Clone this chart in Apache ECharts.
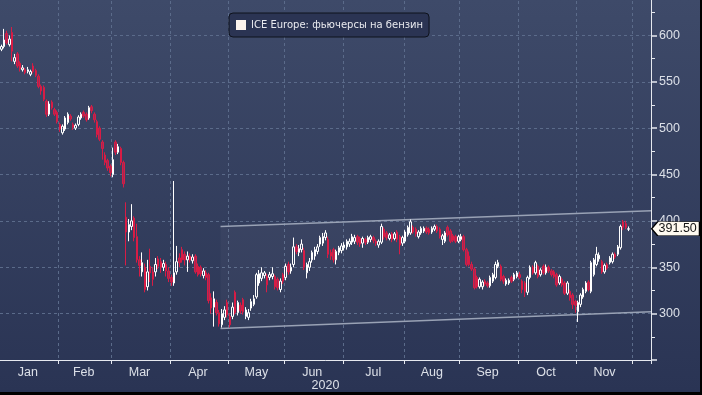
<!DOCTYPE html>
<html>
<head>
<meta charset="utf-8">
<script src="https://cdn.jsdelivr.net/npm/echarts@6/dist/echarts.min.js"></script>
<style>
html,body{margin:0;padding:0;background:#000;overflow:hidden;}
#c{width:700px;height:392px;}
</style>
</head>
<body>
<div id="c"></div>
<script>
const seriesName = 'ICE Europe: фьючерсы на бензин';
const yearLabel = '2020';
const monthNames = ['Jan','Feb','Mar','Apr','May','Jun','Jul','Aug','Sep','Oct','Nov','Dec'];
const labelledMonths = ['01','02','03','04','05','06','07','08','09','10','11'];
const firstDate = '2020-01-02';
const lastDate = '2020-12-09';
const yMin = 250, yMax = 650, yStep = 50;

// [open, close, low, high]
const janOHLC = [
  [585,588,583,590],[588,595,586,607],[602,592,590,605],[590,596,588,600],[603,583,572,609],
  [572,576,569,580],[580,567,565,582],[570,564,561,572],[563,565,561,568],[563,560,558,565],
  [561,563,559,566],[558,561,556,563],[567,561,559,570],[562,557,555,564],[556,545,543,558],
  [545,540,536,547],[544,531,529,546],[529,515,512,531],[515,526,513,529],[528,522,520,530],
  [520,515,513,522],[517,507,505,519]
];
const febOHLC = [
  [504,499,496,506],[495,502,493,504],[499,511,497,513],[506,515,504,517],[513,510,508,515],
  [504,501,498,506],[500,503,498,505],[504,512,502,514],[511,515,509,517],[517,513,511,519],
  [515,509,507,517],[511,522,509,524],[523,519,516,525],[515,509,506,517],[507,493,490,509],
  [500,488,486,502],[485,478,466,487],[471,463,460,474],[465,457,454,467],[459,452,448,461]
];
const marOHLC = [
  [450,466,447,479],[485,474,471,487],[474,480,472,483],[478,463,460,480],[463,440,436,465],
  [404,388,352,420],[388,396,378,402],[394,400,390,418],[403,382,378,405],[383,358,355,397],
  [358,352,340,362],[345,355,340,366],[350,326,323,354],[329,345,325,358],[351,344,334,370],
  [345,337,330,350],[345,353,340,360],[359,351,348,362],[356,350,344,360],[350,354,346,358],
  [353,346,340,356],[346,338,334,350]
];
const aprOHLC = [
  [339,334,330,342],[333,344,330,443],[345,356,342,373],[360,355,350,365],[369,358,355,372],
  [364,358,352,367],[358,362,345,367],[362,358,355,365],[357,361,354,364],[362,345,343,364],
  [351,342,340,354],[350,343,340,352],[341,346,338,349],[344,339,336,347],[342,314,311,344],
  [317,306,300,322],[307,316,286,324],[312,301,298,315],[301,289,286,304],[288,300,285,305],
  [296,304,293,308],[312,299,296,315]
];
const mayOHLC = [
  [297,288,285,300],[297,307,294,312],[323,301,299,325],[301,312,298,314],[309,303,300,312],
  [315,302,299,317],[297,304,294,307],[296,301,293,305],[306,313,303,316],[310,316,308,320],
  [318,342,316,344],[333,343,330,347],[338,344,335,350],[341,344,338,346],[340,331,323,343],
  [339,342,336,345],[340,343,337,350],[340,329,326,342],[337,328,325,339],[326,335,323,338],
  [342,335,332,344]
];
const junOHLC = [
  [339,351,336,354],[353,345,342,356],[346,350,343,354],[353,372,350,382],[372,367,364,375],
  [366,370,362,374],[369,375,366,380],[368,350,347,371],[344,353,338,355],[350,356,346,360],
  [358,366,355,368],[362,369,358,372],[367,372,364,375],[375,382,372,384],[376,383,373,387],
  [382,387,379,390],[380,364,360,383],[366,362,358,369],[369,358,355,371],[358,367,353,369],
  [366,371,363,373],[368,373,365,376]
];
const julOHLC = [
  [371,374,368,377],[372,378,369,380],[375,378,372,381],[377,383,374,386],[378,382,375,385],
  [383,377,374,385],[381,375,372,383],[376,381,371,383],[380,377,374,382],[377,382,375,384],
  [380,383,377,385],[382,379,376,384],[378,376,373,380],[374,378,371,380],[377,394,375,397],
  [391,383,380,393],[387,382,379,389],[381,385,379,387],[386,380,377,388],[381,386,379,388],
  [388,380,377,390],[383,374,364,385],[376,382,373,384]
];
const augOHLC = [
  [378,388,376,390],[385,393,383,395],[387,399,385,401.5],[393,388,386,395],[391,386,383,393],
  [383,388,381,390],[387,392,385,394],[389,392,387,394],[392,388,386,394],[391,387,385,393],
  [388,392,386,394],[391,394,389,396],[394,389,387,396],[391,383,381,393],[380,384,374,386],
  [378,387,376,389],[393,385,383,395],[389,378,376,391],[384,379,377,386],[383,378,376,385],
  [378,383,376,385]
];
const sepOHLC = [
  [380,383,378,386],[383,369,367,385],[369,353,351,371],[362,353,351,367],[353,348,346,356],
  [348,328,326,350],[339,329,327,341],[329,337,327,339],[329,334,326,336],[335,332,330,337],
  [333,330,328,335],[330,339,328,341],[335,342,333,344],[339,353,337,356],[351,355,349,358],
  [351,337,335,353],[340,335,332,342],[332,336,330,338],[333,336,331,338],[339,335,333,341],
  [337,342,335,344],[340,344,338,346]
];
const octOHLC = [
  [342,339,337,345],[335,326,322,337],[333,324,318,335],[323,339,320,341],[339,350,337,352],
  [350,344,342,352],[344,355,342,357],[351,340,338,353],[342,347,340,349],[351,344,342,353],
  [344,350,342,353],[350,346,344,352],[346,342,340,348],[345,340,338,347],[342,331,329,344],
  [333,340,331,342],[337,331,329,339],[333,322,320,335],[322,333,320,335],[324,317,314,326],
  [320,310,305,322],[313,309,301,315]
];
const novOHLC = [
  [302,312,291,314],[310,320,307,322],[318,326,316,328],[324,333,322,335],[334,326,324,336],
  [324,355,322,357],[342,358,340,360],[353,364,351,372],[359,363,356,366],[356,345,343,358],
  [345,352,343,354],[353,349,347,355],[355,360,353,362],[356,364,354,366],[364,361,359,366],
  [364,372,362,374],[371,394,369,396],[399,393,390,401],[397,393,391,400],[391,391.5,389,394]
];
const lastPrice = 391.5;

// price channel drawn on the chart
const channelDates = ['2020-04-28', '2020-12-09'];
const channelUpper = [394, 411];
const channelLower = [284, 302];

// ---- build categories (weekdays) ----
const categories = [];
{
  const d = new Date(firstDate + 'T00:00:00Z');
  const end = new Date(lastDate + 'T00:00:00Z');
  while (d <= end) {
    const wd = d.getUTCDay();
    if (wd !== 0 && wd !== 6) categories.push(d.toISOString().slice(0, 10));
    d.setUTCDate(d.getUTCDate() + 1);
  }
}
const ohlc = [].concat(janOHLC, febOHLC, marOHLC, aprOHLC, mayOHLC, junOHLC,
  julOHLC, augOHLC, sepOHLC, octOHLC, novOHLC);

const monthOf = (s) => s.slice(5, 7);
const monthStart = new Set();
const monthRange = {};
categories.forEach((c, i) => {
  const m = monthOf(c);
  if (i > 0 && m !== monthOf(categories[i - 1])) monthStart.add(i);
  if (!monthRange[m]) monthRange[m] = [i, i]; else monthRange[m][1] = i;
});
const labelIdx = new Set(labelledMonths.map(m => Math.floor((monthRange[m][0] + monthRange[m][1]) / 2)));

const ci0 = categories.indexOf(channelDates[0]);
const ci1 = categories.indexOf(channelDates[1]);

const axisColor = '#e6e9ef';
const labelColor = '#dce0e8';
const gridColor = '#5b6b8a';

const chart = echarts.init(document.getElementById('c'), null, {renderer: 'canvas'});
chart.setOption({
  animation: false,
  backgroundColor: new echarts.graphic.LinearGradient(0, 0, 0, 1, [
    {offset: 0, color: '#3e4a69'},
    {offset: 1, color: '#2a3454'}
  ]),
  grid: {left: 0, right: 49, top: -11, bottom: 32, containLabel: false, outerBoundsMode: 'none'},
  legend: {
    left: 229, top: 13,
    data: [{name: seriesName, icon: 'rect', itemStyle: {color: '#fbf3ee', borderWidth: 0}}],
    itemWidth: 10, itemHeight: 10,
    padding: [7, 6, 7, 7],
    backgroundColor: '#2b3453',
    borderColor: '#0e121c', borderWidth: 1, borderRadius: 4,
    selectedMode: false,
    textStyle: {color: '#e8e9ee', fontSize: 10, fontFamily: 'DejaVu Sans'}
  },
  xAxis: {
    type: 'category', data: categories, boundaryGap: true,
    axisLine: {show: true, lineStyle: {color: axisColor, width: 1}},
    axisTick: {show: true, interval: (i) => monthStart.has(i), length: 4, lineStyle: {color: axisColor}},
    axisLabel: {
      interval: (i) => labelIdx.has(i),
      formatter: (v) => monthNames[parseInt(monthOf(v), 10) - 1],
      color: labelColor, fontSize: 12.5, fontFamily: 'Liberation Sans', margin: 6
    },
    splitLine: {show: true, interval: (i) => monthStart.has(i), lineStyle: {color: gridColor, type: [3, 3], width: 1}},
    name: yearLabel, nameLocation: 'middle', nameGap: 19, nameMoveOverlap: false,
    nameTextStyle: {color: labelColor, fontSize: 12.5, fontFamily: 'Liberation Sans', verticalAlign: 'top'}
  },
  yAxis: {
    type: 'value', position: 'right', min: yMin, max: yMax, interval: yStep, scale: false,
    axisLine: {show: true, lineStyle: {color: axisColor, width: 1}},
    axisTick: {show: true, length: 6, lineStyle: {color: axisColor, width: 1.5}},
    minorTick: {show: true, splitNumber: 2, length: 4, lineStyle: {color: axisColor, width: 1}},
    axisLabel: {color: labelColor, fontSize: 12.5, fontFamily: 'Liberation Sans', margin: 8, showMinLabel: false, showMaxLabel: false},
    splitLine: {show: true, lineStyle: {color: gridColor, type: [3, 3], width: 1}}
  },
  series: [
    {
      type: 'custom', name: 'channel', z: 1, silent: true,
      data: [[ci0, channelUpper[0], channelLower[0], ci1, channelUpper[1], channelLower[1]]],
      renderItem: function (params, api) {
        const half = api.size([1, 0])[0] / 2;
        const a = api.coord([api.value(0), api.value(1)]);
        const b = api.coord([api.value(3), api.value(4)]);
        const c = api.coord([api.value(3), api.value(5)]);
        const d = api.coord([api.value(0), api.value(2)]);
        a[0] -= half; d[0] -= half; b[0] += half; c[0] += half;
        return {
          type: 'group',
          children: [
            {type: 'polygon', shape: {points: [a, b, c, d]}, style: {fill: 'rgba(255,255,255,0.035)'}},
            {type: 'line', shape: {x1: a[0], y1: a[1], x2: b[0], y2: b[1]}, style: {stroke: '#99a2b5', lineWidth: 1.5}},
            {type: 'line', shape: {x1: d[0], y1: d[1], x2: c[0], y2: c[1]}, style: {stroke: '#99a2b5', lineWidth: 1.5}}
          ]
        };
      }
    },
    {
      type: 'candlestick', name: seriesName, z: 3,
      data: ohlc,
      barWidth: 2,
      itemStyle: {
        color: 'rgba(0,0,0,0)', color0: '#a02a55',
        borderColor: '#ffffff', borderColor0: '#d81c45', borderWidth: 1
      },
      markPoint: {
        symbol: 'path://M0,6.5 L6,0 L48,0 L48,13 L6,13 Z',
        symbolSize: [48, 14], symbolKeepAspect: false,
        symbolOffset: [26, 0],
        silent: true,
        itemStyle: {color: '#fffaf0', borderColor: '#000000', borderWidth: 1},
        label: {
          show: true, position: 'inside', offset: [2, 0],
          formatter: () => lastPrice.toFixed(2),
          color: '#151515', fontSize: 12.5, fontFamily: 'Liberation Sans'
        },
        data: [{coord: [categories[categories.length - 1], lastPrice], value: lastPrice}]
      }
    }
  ]
});
</script>
</body>
</html>
